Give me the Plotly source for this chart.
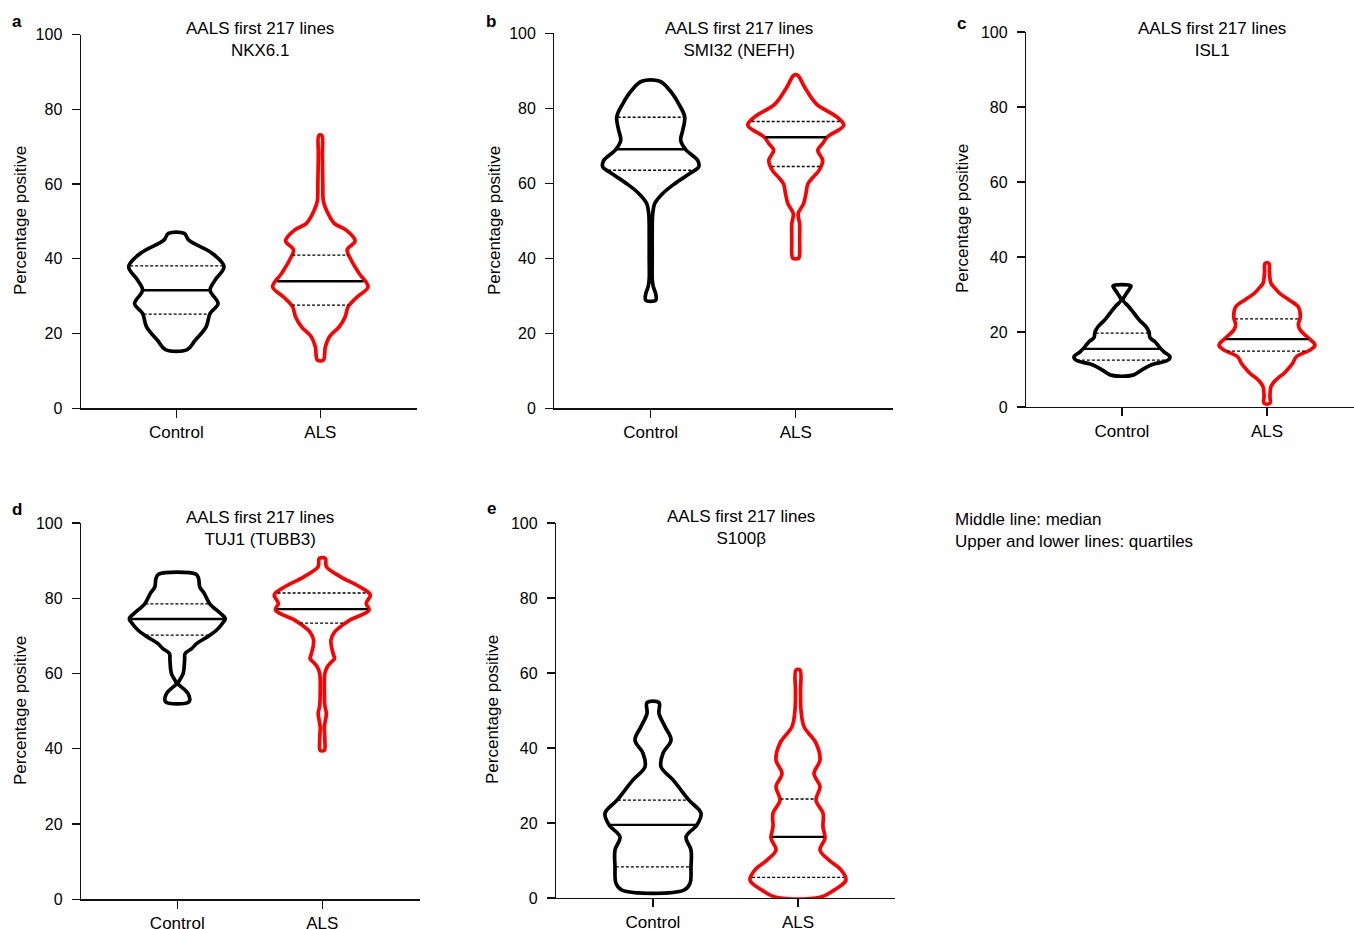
import numpy as np
import plotly.graph_objects as go

# ---------------- data ----------------
CATEGORIES = ["Control", "ALS"]
PANEL_LETTERS = ["a", "b", "c", "d", "e"]
TITLE_LINE = "AALS first 217 lines"
MARKERS = ["NKX6.1", "SMI32 (NEFH)", "ISL1", "TUJ1 (TUBB3)", "S100β"]
Y_TITLE = "Percentage positive"
NOTE_LINES = ["Middle line: median", "Upper and lower lines: quartiles"]
Y_TICKS = [0, 20, 40, 60, 80, 100]

# violin profiles: y levels (percentage) and relative density (outline half-width)
NKX_CTRL_Y = [15.7, 18.2, 21.8, 25.4, 28.0, 31.6, 34.3, 37.9, 41.5, 45.0, 46.8]
NKX_CTRL_D = [11, 19, 30, 34, 42, 34, 39, 48, 36, 12.5, 8]
NKX_ALS_Y = [12.9, 16.4, 19.1, 21.8, 24.5, 27.2, 29.8, 32.5, 36.1, 39.7, 42.4, 44.8, 47.7, 49.5, 53.1, 55.5, 60.0, 68.0, 73.0]
NKX_ALS_D = [3, 5, 9, 19, 25, 28, 37, 48, 39, 31, 27, 35, 26, 14, 6, 3, 2.5, 2, 1.5]
NKX_MEDIAN = [31.6, 34.0]
NKX_Q1 = [25.2, 27.6]
NKX_Q3 = [38.1, 41.0]

SMI_CTRL_Y = [28.8, 30.5, 32.5, 34.5, 40.0, 46.0, 51.9, 54.6, 57.3, 59.9, 62.6, 64.4, 66.1, 69.0, 71.5, 74.1, 77.7, 81.2, 84.8, 87.2]
SMI_CTRL_D = [5, 5, 2.5, 1.5, 1.5, 1.5, 2, 4, 12, 24, 39, 48, 47, 35, 30, 32, 34, 28, 19, 9]
SMI_ALS_Y = [40.0, 41.2, 45.0, 49.2, 51.9, 54.6, 57.3, 59.9, 61.7, 63.5, 66.1, 68.8, 70.6, 72.3, 75.5, 77.7, 81.2, 85.7, 88.8]
SMI_ALS_D = [3, 4, 4, 4, 2.5, 8, 10.5, 12.5, 18, 24, 27.5, 22.5, 27.5, 32, 49, 42, 21, 9, 2]
SMI_MEDIAN = [69.1, 72.3]
SMI_Q1 = [63.5, 64.5]
SMI_Q3 = [77.6, 76.5]

ISL_CTRL_Y = [8.5, 9.9, 11.2, 12.5, 13.4, 14.7, 16.1, 17.4, 18.5, 20.0, 21.4, 23.0, 25.0, 27.0, 28.5, 30.3, 31.5, 32.3]
ISL_CTRL_D = [11, 20, 29, 46, 48, 42, 37, 33, 28, 27, 24, 18, 12, 6, 1, 4.5, 7.5, 9]
ISL_ALS_Y = [1.0, 3.0, 5.4, 6.8, 8.1, 9.0, 10.3, 11.6, 13.4, 15.2, 16.5, 18.7, 20.5, 21.9, 24.1, 26.7, 28.5, 30.3, 32.1, 33.0, 36.0, 38.3]
ISL_ALS_D = [3, 3, 4, 7.5, 13, 17.5, 22, 26, 30, 44, 49, 41, 34, 32, 34, 32, 23, 13, 6.7, 4, 2.5, 2]
ISL_MEDIAN = [15.5, 18.1]
ISL_Q1 = [12.5, 14.9]
ISL_Q3 = [19.7, 23.5]

TUJ_CTRL_Y = [52.5, 54.7, 56.5, 57.3, 60.0, 63.6, 65.3, 66.7, 68.0, 69.8, 71.5, 73.3, 74.6, 76.0, 78.6, 81.3, 83.0, 85.3, 86.4]
TUJ_CTRL_D = [12, 11, 4, 1, 6, 7.5, 8, 15, 20, 31, 40, 46, 49, 44, 33, 27.5, 23, 21.7, 19]
TUJ_ALS_Y = [39.6, 42.5, 45.8, 47.5, 49.4, 51.5, 55.6, 60.0, 61.8, 62.8, 64.0, 65.0, 67.1, 68.9, 71.0, 73.3, 74.2, 76.9, 78.6, 80.9, 83.0, 85.7, 88.4, 90.6]
TUJ_ALS_D = [2, 2.5, 2, 3, 4, 2.5, 2, 2.5, 5, 8, 12, 11, 9, 8.5, 12, 22, 27, 46, 43, 47, 37, 18, 4, 3]
TUJ_MEDIAN = [74.5, 77.1]
TUJ_Q1 = [70.2, 73.4]
TUJ_Q3 = [78.5, 81.4]

S100_CTRL_Y = [2.1, 3.9, 8.3, 12.8, 16.3, 19.5, 22.6, 26.1, 31.5, 35.0, 38.6, 42.1, 45.7, 49.2, 52.1]
S100_CTRL_D = [31, 37, 38, 38, 33, 44, 48, 36, 20, 8, 10, 18, 12, 6, 6]
S100_ALS_Y = [0.2, 2.1, 4.8, 7.5, 10.1, 12.8, 15.9, 19.0, 22.6, 26.1, 29.7, 33.2, 36.8, 41.3, 45.7, 50.1, 55.0, 60.8]
S100_ALS_D = [22, 36, 48, 43, 31, 22, 27, 25, 25, 18, 22, 16, 22, 18, 6, 3, 2.5, 2]
S100_MEDIAN = [19.5, 16.3]
S100_Q1 = [8.3, 5.5]
S100_Q3 = [26.1, 26.4]

PANELS = [
    (NKX_CTRL_Y, NKX_CTRL_D, NKX_ALS_Y, NKX_ALS_D, NKX_MEDIAN, NKX_Q1, NKX_Q3),
    (SMI_CTRL_Y, SMI_CTRL_D, SMI_ALS_Y, SMI_ALS_D, SMI_MEDIAN, SMI_Q1, SMI_Q3),
    (ISL_CTRL_Y, ISL_CTRL_D, ISL_ALS_Y, ISL_ALS_D, ISL_MEDIAN, ISL_Q1, ISL_Q3),
    (TUJ_CTRL_Y, TUJ_CTRL_D, TUJ_ALS_Y, TUJ_ALS_D, TUJ_MEDIAN, TUJ_Q1, TUJ_Q3),
    (S100_CTRL_Y, S100_CTRL_D, S100_ALS_Y, S100_ALS_D, S100_MEDIAN, S100_Q1, S100_Q3),
]

# ---------------- layout geometry (pixels) ----------------
W, H = 1354, 929
FONT = "Liberation Sans, Arial, Helvetica, sans-serif"
COLORS = ["#000000", "#ff0000"]
HALF_W = 0.331

# axis boxes: x_left, x_right, y_top(100), y_bottom(0)
BOXES = [
    (80.7, 416.7, 34.6, 408.3),
    (554.3, 893.3, 33.3, 408.3),
    (1026.0, 1354.0, 32.0, 407.0),
    (81.0, 420.0, 523.0, 899.3),
    (556.0, 895.0, 523.0, 898.0),
]
XRANGES = [
    [-0.664, 1.669],
    [-0.665, 1.673],
    [-0.662, 1.600],
    [-0.664, 1.674],
    [-0.669, 1.669],
]
TITLE_POS = [(260, 39.5), (739, 39.5), (1212, 39.5), (260, 528), (741, 527)]
LETTER_POS = [(17, 21), (491, 21), (961, 23), (17, 509), (491, 508)]
YTITLE_POS = [(20, 221), (494, 221), (963, 219), (20, 711), (492, 710)]


def fx(px):
    return px / W


def fy(py):
    return 1 - py / H


def outline(center, ys, ds):
    ys = np.asarray(ys, float)
    ds = np.asarray(ds, float)
    w = ds / ds.max() * HALF_W
    x = np.concatenate([center + w, (center - w)[::-1], [center + w[0]]])
    y = np.concatenate([ys, ys[::-1], [ys[0]]])
    return x, y, ys, w


fig = go.Figure()
layout = dict(
    width=W, height=H, autosize=False,
    margin=dict(l=0, r=0, t=0, b=0, pad=0, autoexpand=False),
    paper_bgcolor="white", plot_bgcolor="white",
    showlegend=False,
    font=dict(family=FONT, color="black", size=16),
)
annotations = []

for i, (cy, cd, ay, ad, med, q1, q3) in enumerate(PANELS):
    n = "" if i == 0 else str(i + 1)
    xa, ya = "x" + n, "y" + n
    xl, xr, yt, yb = BOXES[i]
    layout["xaxis" + n] = dict(
        domain=[fx(xl), fx(xr)], range=XRANGES[i], anchor=ya,
        tickvals=[0, 1], ticktext=CATEGORIES, automargin=False,
        showline=True, linecolor="#111", linewidth=1.2,
        ticks="outside", ticklen=8, tickwidth=1.2, tickcolor="#111",
        showgrid=False, zeroline=False, fixedrange=True,
        tickfont=dict(family=FONT, size=17, color="black"),
        ticklabelstandoff=0,
    )
    layout["yaxis" + n] = dict(
        domain=[fy(yb), fy(yt)], range=[0, 100], anchor=xa,
        tickvals=Y_TICKS, automargin=False,
        showline=True, linecolor="#111", linewidth=1.2,
        ticks="outside", ticklen=8, tickwidth=1.2, tickcolor="#111",
        showgrid=False, zeroline=False, fixedrange=True,
        tickfont=dict(family=FONT, size=16, color="black"),
        ticklabelstandoff=6,
    )

    for k, (ys, ds) in enumerate([(cy, cd), (ay, ad)]):
        x, y, yy, w = outline(k, ys, ds)
        fig.add_trace(go.Scatter(
            x=x, y=y, mode="lines", xaxis=xa, yaxis=ya,
            line=dict(color=COLORS[k], width=3.7, shape="spline", smoothing=1.0),
            hoverinfo="skip", cliponaxis=False,
        ))
        for q, dash, lw in [(q1[k], "3px,2px", 1.4), (q3[k], "3px,2px", 1.4), (med[k], "solid", 2.4)]:
            wq = float(np.interp(q, yy, w)) - 0.006
            fig.add_trace(go.Scatter(
                x=[k - wq, k + wq], y=[q, q], mode="lines", xaxis=xa, yaxis=ya,
                line=dict(color="black", width=lw, dash=dash),
                hoverinfo="skip",
            ))

    tx, ty = TITLE_POS[i]
    annotations.append(dict(
        x=fx(tx), y=fy(ty), xref="paper", yref="paper",
        text=TITLE_LINE + "<br>" + MARKERS[i], showarrow=False,
        xanchor="center", yanchor="middle", align="center",
        font=dict(family=FONT, size=17, color="black"),
    ))
    lx, ly = LETTER_POS[i]
    annotations.append(dict(
        x=fx(lx), y=fy(ly), xref="paper", yref="paper",
        text="<b>" + PANEL_LETTERS[i] + "</b>", showarrow=False,
        xanchor="center", yanchor="middle",
        font=dict(family=FONT, size=17, color="black"),
    ))
    gx, gy = YTITLE_POS[i]
    annotations.append(dict(
        x=fx(gx), y=fy(gy), xref="paper", yref="paper",
        text=Y_TITLE, showarrow=False, textangle=-90,
        xanchor="center", yanchor="middle",
        font=dict(family=FONT, size=17, color="black"),
    ))

annotations.append(dict(
    x=fx(953), y=fy(530), xref="paper", yref="paper",
    text="<br>".join(NOTE_LINES), showarrow=False,
    xanchor="left", yanchor="middle", align="left",
    font=dict(family=FONT, size=17, color="black"),
))
layout["annotations"] = annotations
fig.update_layout(**layout)
fig.write_html(
    "out.html",
    config={"displayModeBar": False, "staticPlot": True},
    post_script="document.body.style.margin='0';document.body.style.overflow='hidden';",
)
